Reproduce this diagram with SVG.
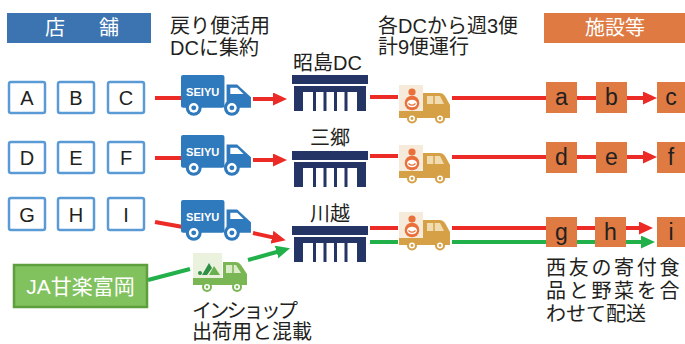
<svg xmlns="http://www.w3.org/2000/svg" xmlns:xlink="http://www.w3.org/1999/xlink" width="685" height="344" viewBox="0 0 685 344">
  <style>
    text { font-family: "Liberation Sans", "Noto Sans CJK JP", sans-serif; fill: #231f20; }
    .lbl { font-size: 20px; }
    .hdr { font-size: 20px; fill: #ffffff; }
    .store rect { fill: #ffffff; stroke: #5b9bd5; stroke-width: 2.5; }
    .store text { font-size: 20px; text-anchor: middle; }
    .dest rect { fill: #de7a42; }
    .dest text { font-size: 23px; text-anchor: middle; fill: #231f20; }
    .red { stroke: #ec2a26; stroke-width: 4; fill: none; }
    .green { stroke: #22b04b; stroke-width: 4; fill: none; }
    .red-arrow { stroke: #ec2a26; stroke-width: 4; fill: none; marker-end: url(#head-red); }
    .green-arrow { stroke: #22b04b; stroke-width: 4; fill: none; marker-end: url(#head-green); }
    .navy { fill: #243465; }
  </style>
  <defs>
    <marker id="head-red" markerUnits="userSpaceOnUse" markerWidth="15" markerHeight="14" refX="2" refY="6.5" orient="auto">
      <path d="M0,0 L14,6.5 L0,13 Z" fill="#ec2a26"/>
    </marker>
    <marker id="head-green" markerUnits="userSpaceOnUse" markerWidth="15" markerHeight="14" refX="2" refY="6.5" orient="auto">
      <path d="M0,0 L14,6.5 L0,13 Z" fill="#22b04b"/>
    </marker>

    <!-- blue SEIYU delivery truck -->
    <g id="truck-seiyu">
      <rect x="0" y="0" width="41" height="31" rx="2" fill="#2f79bd"/>
      <path d="M43,9 H53 L66,21 V31 H43 Z" fill="#2f79bd"/>
      <path d="M46.5,12 H53 L59,18 H46.5 Z" fill="#ffffff"/>
      <text x="20.5" y="19.5" text-anchor="middle" font-weight="bold" font-size="10.5" style="fill:#ffffff">SEIYU</text>
      <circle cx="12" cy="31" r="7.5" fill="#2f79bd"/>
      <circle cx="12" cy="31" r="4.6" fill="#ffffff"/>
      <circle cx="12" cy="31" r="2.3" fill="#2f79bd"/>
      <circle cx="48" cy="31" r="7.5" fill="#2f79bd"/>
      <circle cx="48" cy="31" r="4.6" fill="#ffffff"/>
      <circle cx="48" cy="31" r="2.3" fill="#2f79bd"/>
    </g>

    <!-- food bank delivery van -->
    <g id="truck-food">
      <rect x="1" y="1" width="24" height="29" fill="#f6eadb"/>
      <circle cx="14" cy="8" r="3.6" fill="#e9703a"/>
      <circle cx="14" cy="19" r="7.3" fill="#e9703a"/>
      <ellipse cx="14" cy="19.5" rx="5" ry="3.8" fill="#ffffff"/>
      <path d="M10.5,19.5 Q14,23 17.5,19.5" stroke="#e9703a" stroke-width="1.2" fill="none"/>
      <path d="M25,9 H42 Q45,9 47,12 L52,21 V33 H25 Z" fill="#d6a046"/>
      <path d="M29,12 H42 L46,20 H29 Z" fill="#f1dcb2"/>
      <line x1="36" y1="12" x2="36" y2="20" stroke="#d6a046" stroke-width="1.5"/>
      <rect x="1" y="27" width="51" height="7" fill="#d6a046"/>
      <circle cx="14" cy="34.5" r="5" fill="#d6a046"/>
      <circle cx="14" cy="34.5" r="3" fill="#ffffff"/>
      <circle cx="14" cy="34.5" r="1.4" fill="#d6a046"/>
      <circle cx="42" cy="34.5" r="5" fill="#d6a046"/>
      <circle cx="42" cy="34.5" r="3" fill="#ffffff"/>
      <circle cx="42" cy="34.5" r="1.4" fill="#d6a046"/>
    </g>

    <!-- JA produce truck -->
    <g id="truck-ja">
      <rect x="1" y="1" width="29" height="27" fill="#eaf1dc"/>
      <circle cx="8" cy="21" r="2" fill="#2f8f45"/>
      <path d="M10,23 L17,11 L20,16 L15,23 Z" fill="#2f8f45"/>
      <path d="M17,23 L22,14 L28,23 Z" fill="#6bb04e"/>
      <path d="M31,10 H44 Q47,10 49,13 L55,22 V33 H31 Z" fill="#7ab653"/>
      <path d="M34,13 H44 L49,21 H34 Z" fill="#dcebc8"/>
      <line x1="41" y1="13" x2="41" y2="21" stroke="#7ab653" stroke-width="1.5"/>
      <rect x="1" y="26" width="54" height="7" fill="#7ab653"/>
      <circle cx="15" cy="35" r="5" fill="#7ab653"/>
      <circle cx="15" cy="35" r="3" fill="#ffffff"/>
      <circle cx="15" cy="35" r="1.4" fill="#7ab653"/>
      <circle cx="45" cy="35" r="5" fill="#7ab653"/>
      <circle cx="45" cy="35" r="3" fill="#ffffff"/>
      <circle cx="45" cy="35" r="1.4" fill="#7ab653"/>
    </g>

    <!-- distribution centre building -->
    <g id="dc-building">
      <rect class="navy" x="0" y="0" width="76" height="9"/>
      <rect class="navy" x="2" y="11" width="72" height="6"/>
      <rect class="navy" x="2" y="11" width="9" height="25"/>
      <rect class="navy" x="65" y="11" width="9" height="25"/>
      <rect class="navy" x="21" y="17" width="3" height="19"/>
      <rect class="navy" x="31.5" y="17" width="3" height="19"/>
      <rect class="navy" x="42" y="17" width="3" height="19"/>
      <rect class="navy" x="52.5" y="17" width="3" height="19"/>
    </g>
  </defs>

  <rect width="685" height="344" fill="#ffffff"/>

  <!-- column headers and notes -->
  <g id="header-stores">
    <rect x="7" y="13" width="144" height="30" fill="#3b74b1"/>
    <text class="hdr" x="45" y="35" letter-spacing="7">店　舗</text>
  </g>
  <g id="header-facilities">
    <rect x="544" y="13" width="141" height="30" fill="#de7a42"/>
    <text class="hdr" x="615" y="35" text-anchor="middle" font-size="21">施設等</text>
  </g>
  <g id="note-return">
    <text class="lbl" x="170" y="33">戻り便活用</text>
    <text class="lbl" x="170" y="55">DCに集約</text>
  </g>
  <g id="note-trips">
    <text class="lbl" x="378" y="33" font-size="20.5">各DCから週3便</text>
    <text class="lbl" x="378" y="54" font-size="20.5">計9便運行</text>
  </g>

  <!-- connectors -->
  <g id="connectors">
    <!-- row 1 -->
    <line class="red" x1="155" y1="98" x2="182" y2="98"/>
    <line class="red-arrow" x1="253" y1="99" x2="275" y2="99"/>
    <line class="red" x1="370" y1="97" x2="398" y2="97"/>
    <line class="red" x1="452" y1="98" x2="596" y2="98"/>
    <line class="red-arrow" x1="627" y1="98" x2="645" y2="98"/>
    <!-- row 2 -->
    <line class="red" x1="155" y1="158" x2="182" y2="158"/>
    <line class="red-arrow" x1="253" y1="160" x2="275" y2="160"/>
    <line class="red" x1="370" y1="156" x2="398" y2="156"/>
    <line class="red" x1="452" y1="157" x2="596" y2="157"/>
    <line class="red-arrow" x1="627" y1="157" x2="645" y2="157"/>
    <!-- row 3 -->
    <line class="red" x1="155" y1="222" x2="183" y2="227"/>
    <line class="red-arrow" x1="253" y1="233" x2="274" y2="237.6"/>
    <line class="green" x1="148" y1="280" x2="190" y2="269"/>
    <line class="green-arrow" x1="248" y1="260" x2="278.5" y2="251.5"/>
    <line class="red" x1="370" y1="228" x2="398" y2="228"/>
    <line class="green" x1="370" y1="242" x2="398" y2="242"/>
    <line class="red" x1="452" y1="228" x2="595" y2="228"/>
    <line class="green" x1="452" y1="242" x2="595" y2="242"/>
    <line class="red-arrow" x1="626" y1="228" x2="641" y2="228"/>
    <line class="green-arrow" x1="626" y1="242" x2="643" y2="242"/>
  </g>

  <!-- stores -->
  <g id="store-A" class="store"><rect x="9" y="82" width="36" height="31" rx="2"/><text x="27" y="105">A</text></g>
  <g id="store-B" class="store"><rect x="58" y="82" width="36" height="31" rx="2"/><text x="76" y="105">B</text></g>
  <g id="store-C" class="store"><rect x="108" y="82" width="36" height="31" rx="2"/><text x="126" y="105">C</text></g>
  <g id="store-D" class="store"><rect x="9" y="142" width="36" height="31" rx="2"/><text x="27" y="165">D</text></g>
  <g id="store-E" class="store"><rect x="58" y="142" width="36" height="31" rx="2"/><text x="76" y="165">E</text></g>
  <g id="store-F" class="store"><rect x="108" y="142" width="36" height="31" rx="2"/><text x="126" y="165">F</text></g>
  <g id="store-G" class="store"><rect x="9" y="198" width="36" height="32" rx="2"/><text x="27" y="221.5">G</text></g>
  <g id="store-H" class="store"><rect x="58" y="198" width="36" height="32" rx="2"/><text x="76" y="221.5">H</text></g>
  <g id="store-I" class="store"><rect x="108" y="198" width="36" height="32" rx="2"/><text x="126" y="221.5">I</text></g>

  <!-- JA supplier -->
  <g id="ja-kanra-tomioka">
    <rect x="14" y="265" width="133" height="42" fill="#82c25e" stroke="#5d9e3d" stroke-width="2.5"/>
    <text x="80.5" y="294" text-anchor="middle" font-size="21" style="fill:#ffffff">JA甘楽富岡</text>
  </g>

  <!-- trucks -->
  <g id="truck-store-1"><use xlink:href="#truck-seiyu" transform="translate(181,75) scale(1.06)"/></g>
  <g id="truck-store-2"><use xlink:href="#truck-seiyu" transform="translate(181,135) scale(1.06)"/></g>
  <g id="truck-store-3"><use xlink:href="#truck-seiyu" transform="translate(181,200) scale(1.06)"/></g>
  <g id="truck-ja-produce">
    <use xlink:href="#truck-ja" x="192" y="252"/>
    <text class="lbl" x="192" y="318" textLength="106" lengthAdjust="spacing">インショップ</text>
    <text class="lbl" x="192" y="339">出荷用と混載</text>
  </g>

  <!-- distribution centres -->
  <g id="dc-akishima">
    <text class="lbl" x="293" y="70" font-size="21">昭島DC</text>
    <use xlink:href="#dc-building" x="292" y="75"/>
  </g>
  <g id="dc-misato">
    <text class="lbl" x="330" y="145" text-anchor="middle">三郷</text>
    <use xlink:href="#dc-building" x="292" y="151"/>
  </g>
  <g id="dc-kawagoe">
    <text class="lbl" x="330" y="221" text-anchor="middle">川越</text>
    <use xlink:href="#dc-building" x="292" y="226"/>
  </g>

  <!-- food bank vans -->
  <g id="van-1"><use xlink:href="#truck-food" x="398" y="84"/></g>
  <g id="van-2"><use xlink:href="#truck-food" x="398" y="144"/></g>
  <g id="van-3"><use xlink:href="#truck-food" x="398" y="211"/></g>

  <!-- facilities -->
  <g id="facility-a" class="dest"><rect x="546" y="82" width="31" height="31"/><text x="561.5" y="105">a</text></g>
  <g id="facility-b" class="dest"><rect x="596" y="82" width="31" height="31"/><text x="611.5" y="105">b</text></g>
  <g id="facility-c" class="dest"><rect x="657" y="82" width="31" height="31"/><text x="671" y="105">c</text></g>
  <g id="facility-d" class="dest"><rect x="546" y="142" width="31" height="31"/><text x="561.5" y="165">d</text></g>
  <g id="facility-e" class="dest"><rect x="596" y="142" width="31" height="31"/><text x="611.5" y="165">e</text></g>
  <g id="facility-f" class="dest"><rect x="657" y="142" width="31" height="31"/><text x="671" y="165">f</text></g>
  <g id="facility-g" class="dest"><rect x="546" y="217" width="31" height="30"/><text x="561.5" y="240">g</text></g>
  <g id="facility-h" class="dest"><rect x="595" y="217" width="31" height="30"/><text x="610.5" y="240">h</text></g>
  <g id="facility-i" class="dest"><rect x="657" y="217" width="31" height="30"/><text x="671" y="240">i</text></g>

  <g id="note-delivery">
    <text class="lbl" x="546" y="275" letter-spacing="2.7">西友の寄付食</text>
    <text class="lbl" x="546" y="298" letter-spacing="2.7">品と野菜を合</text>
    <text class="lbl" x="546" y="321">わせて配送</text>
  </g>
</svg>
